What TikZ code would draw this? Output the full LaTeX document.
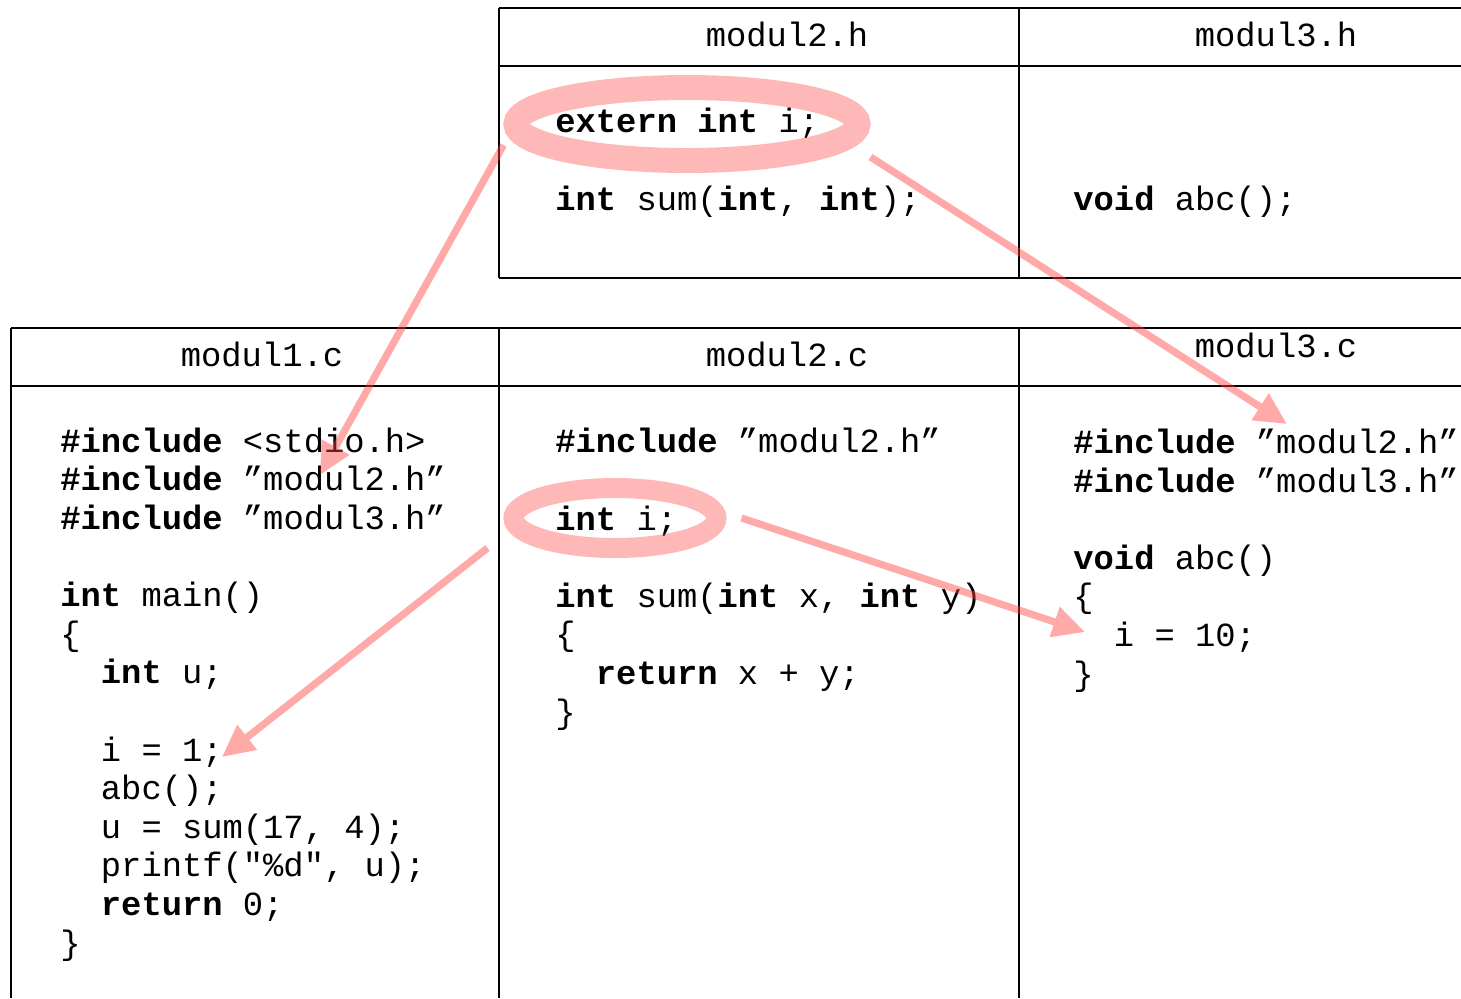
\documentclass[tikz,border=0pt]{standalone}
\usepackage{fontspec}
\setmainfont{Liberation Serif}
\setmonofont{Liberation Mono}
\usetikzlibrary{arrows.meta,shapes.geometric}

\newcommand\kwd[1]{\textbf{#1}}
\newcommand\ind{\hspace*{1.2em}}

\tikzset{
  code/.style={anchor=base west, inner sep=0pt, align=left, font=\ttfamily\fontsize{16.9pt}{19.3pt}\selectfont},
  head/.style={anchor=base, inner sep=0pt, font=\ttfamily\fontsize{16.9pt}{19.3pt}\selectfont},
  hilite/.style={ellipse, draw=red!62, line width=12.5pt, inner sep=0pt},
  link/.style={draw=red!75, line width=3.6pt, -{Triangle[length=16pt,width=15pt]}},
}

\begin{document}
\begin{tikzpicture}[x=0.5pt, y=-0.5pt]
    \useasboundingbox (0,0) rectangle (1461,998);
    \draw[line width=0.9pt] (499,8) -- (1461,8) (499,66) -- (1461,66) (499,278) -- (1461,278)
        (499,8) -- (499,278) (1019,8) -- (1019,278);
    \draw[line width=0.9pt] (11,328) -- (1461,328) (11,386) -- (1461,386)
        (11,328) -- (11,998) (499,328) -- (499,998) (1019,328) -- (1019,998);

    \node[head] (h2) at (787,46) {modul2.h};
    \node[head] (h3) at (1276,46) {modul3.h};
    \node[head] (c1) at (262,366) {modul1.c};
    \node[head] (c2) at (787,366) {modul2.c};
    \node[head] (c3) at (1276,357) {modul3.c};

    \node[code] (h2body) at (555,210) {\kwd{extern int} i;\\[19.3pt]\kwd{int} sum(\kwd{int}, \kwd{int});};
    \node[code] (h3body) at (1073,210) {\kwd{void} abc();};
    \node[code] (c1body) at (60,954) {\kwd{\#include} <stdio.h>\\\kwd{\#include} ”modul2.h”\\\kwd{\#include} ”modul3.h”\\[19.3pt]\kwd{int} main()\\\{\\\ind\kwd{int} u;\\[19.3pt]\ind i = 1;\\\ind abc();\\\ind u = sum(17, 4);\\\ind printf("\%d", u);\\\ind\kwd{return} 0;\\\}};
    \node[code] (c2body) at (555,723) {\kwd{\#include} ”modul2.h”\\[19.3pt]\kwd{int} i;\\[19.3pt]\kwd{int} sum(\kwd{int} x, \kwd{int} y)\\\{\\\ind\kwd{return} x + y;\\\}};
    \node[code] (c3body) at (1073,685) {\kwd{\#include} ”modul2.h”\\\kwd{\#include} ”modul3.h”\\[19.3pt]\kwd{void} abc()\\\{\\\ind i = 10;\\\}};

    \coordinate (use2h) at (320,475);
    \coordinate (use3h) at (1287,424);
    \coordinate (usei1) at (222,757);
    \coordinate (usei10) at (1085,632);

    \begin{scope}[transparency group, opacity=0.45]
        \node[hilite, minimum width=171pt, minimum height=36.5pt] (exti) at (687,124) {};
        \node[hilite, line width=10pt, minimum width=101.5pt, minimum height=30pt] (inti) at (615,518) {};
        \draw[link] ([yshift=-10.5pt]exti.west) -- (use2h);
        \draw[link] ([yshift=-16.5pt]exti.east) -- (use3h);
        \draw[link] ([xshift=-8pt, yshift=-15pt]inti.west) -- (usei1);
        \draw[link] ([xshift=7.5pt]inti.east) -- (usei10);
    \end{scope}
\end{tikzpicture}
\end{document}
